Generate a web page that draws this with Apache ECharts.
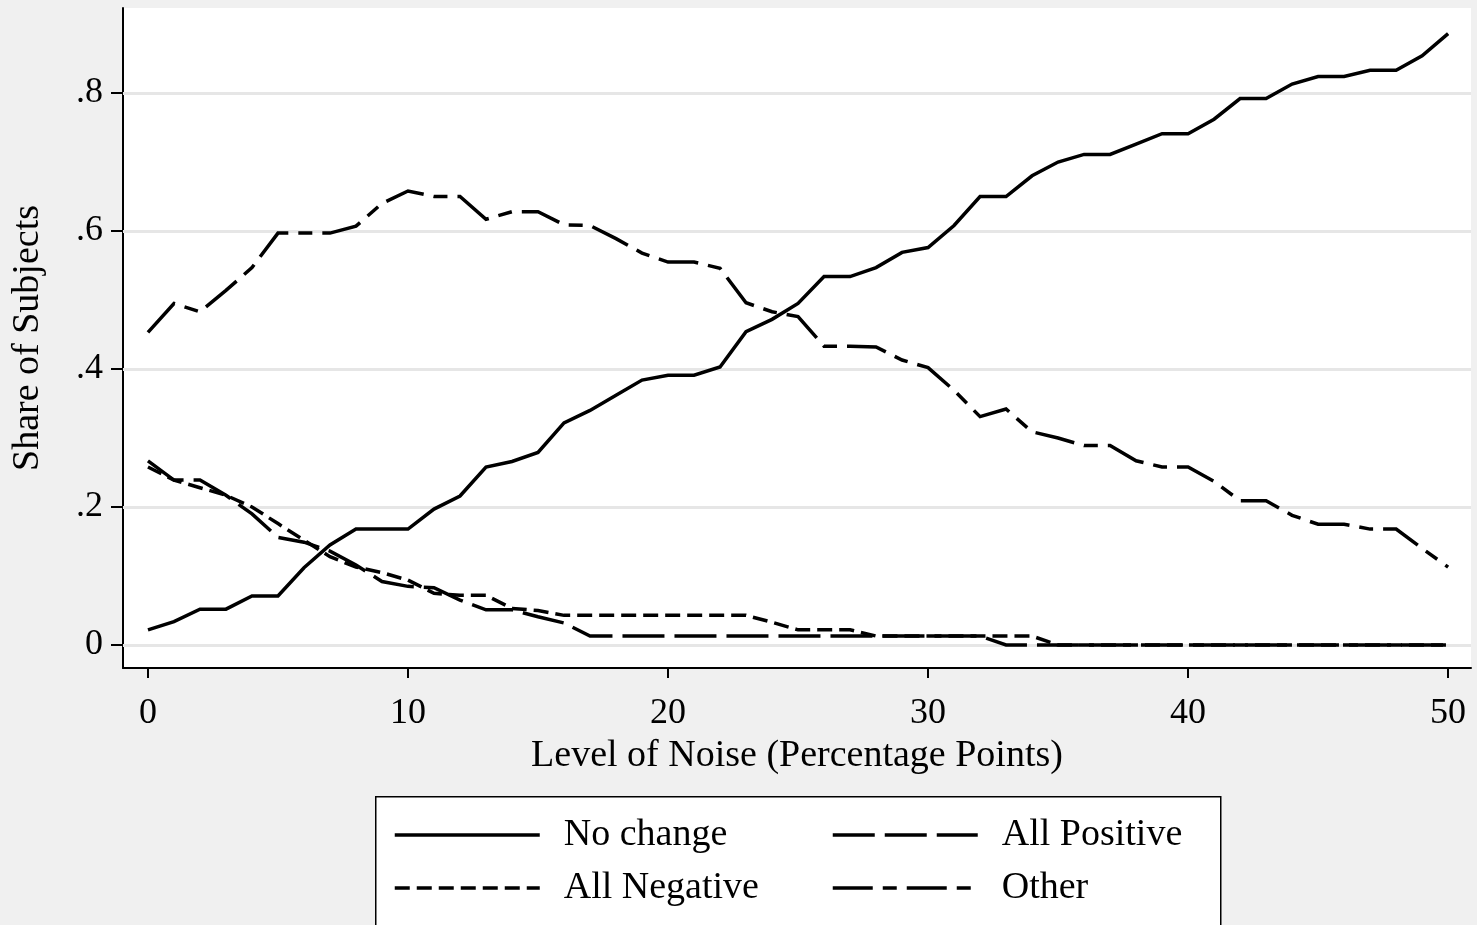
<!DOCTYPE html>
<html>
<head>
<meta charset="utf-8">
<style>
  html, body { margin: 0; padding: 0; background: #f0f0f0; }
  #chart { width: 1477px; height: 925px; }
</style>
<script src="https://cdn.jsdelivr.net/npm/echarts@6/dist/echarts.min.js"></script>
</head>
<body>
<div id="chart"></div>
<script>
// noise level, percentage points
const noise = [0, 1, 2, 3, 4, 5, 6, 7, 8, 9, 10, 11, 12, 13, 14, 15, 16, 17, 18, 19, 20,
  21, 22, 23, 24, 25, 26, 27, 28, 29, 30, 31, 32, 33, 34, 35, 36, 37, 38, 39, 40,
  41, 42, 43, 44, 45, 46, 47, 48, 49, 50]

const noChange = [0.022, 0.034, 0.052, 0.052, 0.071, 0.071, 0.112, 0.145, 0.168, 0.168, 0.168,
  0.197, 0.216, 0.258, 0.266, 0.279, 0.322, 0.340, 0.362, 0.384, 0.391,
  0.391, 0.403, 0.454, 0.472, 0.495, 0.534, 0.534, 0.547, 0.569, 0.576,
  0.608, 0.650, 0.650, 0.680, 0.700, 0.711, 0.711, 0.726, 0.741, 0.741,
  0.762, 0.792, 0.792, 0.813, 0.824, 0.824, 0.833, 0.833, 0.854, 0.886]

const allPositive = [0.267, 0.239, 0.239, 0.217, 0.190, 0.156, 0.149, 0.136, 0.116, 0.092, 0.085,
  0.083, 0.065, 0.051, 0.051, 0.041, 0.032, 0.013, 0.013, 0.013, 0.013,
  0.013, 0.013, 0.013, 0.013, 0.013, 0.013, 0.013, 0.013, 0.013, 0.013,
  0.013, 0.013, 0, 0, 0, 0, 0, 0, 0, 0,
  0, 0, 0, 0, 0, 0, 0, 0, 0, 0]

const allNegative = [0.258, 0.239, 0.228, 0.217, 0.200, 0.176, 0.152, 0.128, 0.113, 0.105, 0.094,
  0.075, 0.072, 0.072, 0.053, 0.050, 0.043, 0.043, 0.043, 0.043, 0.043,
  0.043, 0.043, 0.043, 0.033, 0.022, 0.022, 0.022, 0.013, 0.013, 0.013,
  0.013, 0.013, 0.013, 0.013, 0, 0, 0, 0, 0, 0,
  0, 0, 0, 0, 0, 0, 0, 0, 0, 0]

const other = [0.453, 0.495, 0.483, 0.514, 0.547, 0.597, 0.597, 0.597, 0.607, 0.640, 0.658,
  0.650, 0.650, 0.617, 0.628, 0.628, 0.609, 0.608, 0.589, 0.568, 0.555,
  0.555, 0.546, 0.496, 0.483, 0.476, 0.433, 0.433, 0.432, 0.413, 0.402,
  0.369, 0.331, 0.342, 0.309, 0.300, 0.289, 0.289, 0.267, 0.258, 0.258,
  0.237, 0.209, 0.209, 0.188, 0.175, 0.175, 0.168, 0.168, 0.140, 0.113]

const xTicks = [0, 10, 20, 30, 40, 50]
const yTicks = [0, 0.2, 0.4, 0.6, 0.8]

const FONT = 'Liberation Serif'

const chart = echarts.init(document.getElementById('chart'))

function lineSeries(name, values, dash) {
  return {
    name: name,
    type: 'line',
    symbol: 'none',
    z: 3,
    data: noise.map((x, i) => [x, values[i]]),
    lineStyle: { color: '#000', width: 3.5, type: dash, cap: 'butt', join: 'miter' },
    itemStyle: { color: '#000' }
  }
}

function legendItem(name, left, top) {
  return {
    data: [name],
    left: left,
    top: top,
    padding: 0,
    itemWidth: 145,
    itemHeight: 20,
    selectedMode: false,
    // hide the dot that line series put in the middle of the key
    itemStyle: { color: 'rgba(0,0,0,0)', borderWidth: 0, opacity: 0 },
    lineStyle: { width: 3.5, color: '#000' },
    formatter: n => '  ' + n,
    textStyle: { fontFamily: FONT, fontSize: 38, color: '#000' }
  }
}

chart.setOption({
  backgroundColor: '#f0f0f0',
  animation: false,
  grid: {
    left: 123, right: 6, top: 8, bottom: 257,
    show: true, backgroundColor: '#fff', borderWidth: 0
  },
  graphic: [{
    type: 'rect',
    left: 375, top: 796,
    shape: { width: 845, height: 200 },
    style: { fill: '#fff', stroke: '#000', lineWidth: 1.5 },
    z: 0
  }],
  legend: [
    legendItem('No change', 393, 816),
    legendItem('All Positive', 831, 816),
    legendItem('All Negative', 393, 869),
    legendItem('Other', 831, 869)
  ],
  xAxis: {
    type: 'value',
    min: -0.96,
    max: 50.88,
    splitLine: { show: false },
    axisLine: { onZero: false, lineStyle: { color: '#000', width: 2 } },
    axisTick: { customValues: xTicks, length: 10, lineStyle: { color: '#000', width: 2 } },
    axisLabel: { customValues: xTicks, margin: 28, fontFamily: FONT, fontSize: 36, color: '#000' },
    name: 'Level of Noise (Percentage Points)',
    nameLocation: 'middle',
    nameGap: 64,
    nameTextStyle: { fontFamily: FONT, fontSize: 38, color: '#000' }
  },
  yAxis: {
    type: 'value',
    min: -0.0333,
    max: 0.9232,
    splitLine: { show: false },
    axisLine: { onZero: false, lineStyle: { color: '#000', width: 2 } },
    axisTick: { customValues: yTicks, length: 12, lineStyle: { color: '#000', width: 2 } },
    axisLabel: {
      customValues: yTicks, margin: 20, fontFamily: FONT, fontSize: 36, color: '#000',
      formatter: v => v === 0 ? '0' : String(v).replace(/^0/, '')
    },
    name: 'Share of Subjects',
    nameLocation: 'middle',
    nameGap: 76,
    nameTextStyle: { fontFamily: FONT, fontSize: 38, color: '#000' }
  },
  series: [
    {
      type: 'line',
      data: [],
      silent: true,
      markLine: {
        silent: true,
        z: 1,
        symbol: 'none',
        label: { show: false },
        lineStyle: { color: '#e6e6e6', width: 3, type: 'solid' },
        data: yTicks.map(v => ({ yAxis: v }))
      }
    },
    lineSeries('No change', noChange, 'solid'),
    lineSeries('All Positive', allPositive, [42, 10]),
    lineSeries('All Negative', allNegative, [15, 7]),
    lineSeries('Other', other, [40, 10, 14, 10])
  ]
})
</script>
</body>
</html>
